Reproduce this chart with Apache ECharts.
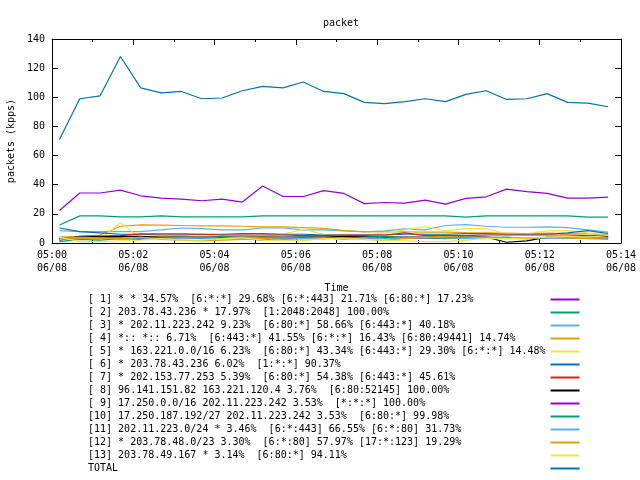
<!DOCTYPE html>
<html>
<head>
<meta charset="utf-8">
<script src="https://cdn.jsdelivr.net/npm/echarts@6/dist/echarts.min.js"></script>
<style>html,body{margin:0;padding:0;background:#fff}#c{width:640px;height:480px}</style>
</head>
<body>
<div id="c"></div>
<script>
// ---- data ----
const times = ["05:00:11","05:00:41","05:01:11","05:01:41","05:02:11","05:02:41","05:03:11",
  "05:03:41","05:04:11","05:04:41","05:05:11","05:05:41","05:06:11","05:06:41","05:07:11",
  "05:07:41","05:08:11","05:08:41","05:09:11","05:09:41","05:10:11","05:10:41","05:11:11",
  "05:11:41","05:12:11","05:12:41","05:13:11","05:13:41"];

const xTickTimes = ["05:00","05:02","05:04","05:06","05:08","05:10","05:12","05:14"];
const xTickDate = "06/08";

const legendLabels = [
  "[ 1] * * 34.57%  [6:*:*] 29.68% [6:*:443] 21.71% [6:80:*] 17.23%",
  "[ 2] 203.78.43.236 * 17.97%  [1:2048:2048] 100.00%",
  "[ 3] * 202.11.223.242 9.23%  [6:80:*] 58.66% [6:443:*] 40.18%",
  "[ 4] *:: *:: 6.71%  [6:443:*] 41.55% [6:*:*] 16.43% [6:80:49441] 14.74%",
  "[ 5] * 163.221.0.0/16 6.23%  [6:80:*] 43.34% [6:443:*] 29.30% [6:*:*] 14.48%",
  "[ 6] * 203.78.43.236 6.02%  [1:*:*] 90.37%",
  "[ 7] * 202.153.77.253 5.39%  [6:80:*] 54.38% [6:443:*] 45.61%",
  "[ 8] 96.141.151.82 163.221.120.4 3.76%  [6:80:52145] 100.00%",
  "[ 9] 17.250.0.0/16 202.11.223.242 3.53%  [*:*:*] 100.00%",
  "[10] 17.250.187.192/27 202.11.223.242 3.53%  [6:80:*] 99.98%",
  "[11] 202.11.223.0/24 * 3.46%  [6:*:443] 66.55% [6:*:80] 31.73%",
  "[12] * 203.78.48.0/23 3.30%  [6:*:80] 57.97% [17:*:123] 19.29%",
  "[13] 203.78.49.167 * 3.14%  [6:80:*] 94.11%",
  "TOTAL"
];

const s1  = [22.3,34.3,34.3,36.3,32.4,30.8,30.1,29,30.1,28.1,39.1,31.9,31.9,35.9,34,27,27.8,27.4,29.4,26.7,30.6,31.7,37,35.2,34,30.8,30.8,31.5];
const s2  = [12.4,18.6,18.6,17.9,17.9,18.6,17.9,17.9,17.9,17.9,18.6,18.6,18.6,18.6,18.6,18.6,18.6,18.6,18.6,18.6,17.7,18.6,18.6,18.6,18.6,18.6,17.7,17.7];
const s3  = [8.5,7.8,7.8,7.8,7.8,9,10.3,9.8,9,9,10.3,10.3,9,9,8.3,7.6,8.3,9.7,9,12,12.6,11.5,10.8,10.8,11,10.5,9,7.5];
const s4  = [4,4.5,5.5,11.5,12.4,12.2,12,11.7,11.7,11.5,11,11,10.5,10,8.5,7.8,7.6,7.6,7.5,7.5,7.2,7,6.8,6.5,6.8,6.5,6.2,6];
const s5  = [3,4,2.5,14,3,4,4.5,5,5.5,5,4.5,6,9.5,6,5.5,5,7,9,11.3,8.3,9.8,9.8,6.5,6.2,8.3,8.5,7,6.5];
const s6  = [10.3,7.8,7,6,6,5.5,5.5,6,6,6.5,6.5,6,6,5.5,5.5,5.5,5.5,6,6,6,6.5,6.5,6,6,6,7,8.5,6.5];
const s7  = [3,4,4.5,5,6.2,6.2,6.2,6,5.5,5.5,5.5,5.5,5,5,5.5,5.5,5.5,7,5,5,5,5.5,5.5,5.5,5.5,5.5,5,5];
const s8  = [2,4.5,4.5,4.5,4.5,4,4,4,4,4,4,4,4,4,4.5,4.5,4,4,4,4.5,4,4,0.5,1.5,4,4,4,4.5];
const s9  = [3,3.5,3.5,3.5,3,3.5,3.5,3.5,4,3.5,3.5,3,3.5,3.5,3.5,3.5,3,3.5,3.5,3.5,3.5,4,3.5,3.5,3.5,3.5,3.5,3.5];
const s10 = [1,2.5,2,3,2.5,3.5,4,3,4.5,3,2,3.5,4,3,3.5,4,4.5,3.5,3.5,3,4,3.5,4,3,3.5,4.5,4,3.5];
const s11 = [3,4,3.5,2.5,3.5,3,3.5,3.5,3,4,3.5,3.5,3,3.5,2.5,3.5,3,3.5,4,3.5,3,4,3.5,3.5,3.5,3,4.5,3.5];
const s12 = [2.5,3,3,3,4,2.5,2,1.5,2,2.5,3,2.5,2,3,3.5,2.5,2,3,4,4.5,4,3.5,3,3,4,3.5,3,2.5];
const s13 = [4,1,1,1.5,2,3,2,2,3,3.5,2,1.5,2,3,3,2.5,2,1.5,1,1,2,3,3,3.5,4,4.5,4,5];
const total = [71,99,101,128,106.5,103,104,99,99.5,104.5,107.5,106.5,110.5,104,102.5,96.5,95.7,97,99,97,102,104.5,98.5,99,102.5,96.5,96,93.5];

const seriesValues = [s1,s2,s3,s4,s5,s6,s7,s8,s9,s10,s11,s12,s13,total];
const colors = ["#9400d3","#009e73","#56b4e9","#e69f00","#f0e442","#0072b2","#e51e10","#000000",
                "#9400d3","#009e73","#56b4e9","#e69f00","#f0e442","#0072b2"];

// ---- chart ----
const FONT = "'DejaVu Sans Mono', monospace";
function toMin(t){ const p=t.split(':').map(Number); return (p[0]-5)*60+p[1]+p[2]/60; }
const xs = times.map(toMin);

const series = seriesValues.map((vals,i)=>({
  name: legendLabels[i],
  type: 'line',
  data: vals.map((v,j)=>[xs[j], v]),
  showSymbol: false,
  symbol: 'none',
  color: colors[i],
  itemStyle: {color: colors[i]},
  lineStyle: {color: colors[i], width: 1.2},
  emphasis: {disabled: true},
  animation: false
}));

const axisCommon = {
  axisLine: {show: true, onZero: false, lineStyle: {color: '#000', width: 1}},
  axisTick: {show: true, inside: true, length: 6, lineStyle: {color: '#000', width: 1}},
  splitLine: {show: false}
};

const option = {
  animation: false,
  backgroundColor: '#ffffff',
  textStyle: {fontFamily: FONT, fontSize: 10, color: '#000'},
  title: {
    text: 'packet', left: 318, top: 13,
    textStyle: {fontFamily: FONT, fontSize: 10, fontWeight: 'normal', color: '#000'}
  },
  grid: {left: 52, top: 39, width: 569, height: 204, containLabel: false, outerBoundsMode: 'none'},
  xAxis: [
    Object.assign({}, axisCommon, {
      type: 'value', min: 0, max: 14, interval: 2, position: 'bottom',
      name: 'Time', nameLocation: 'middle', nameGap: 40,
      nameTextStyle: {fontFamily: FONT, fontSize: 10, color: '#000'},
      minorTick: {show: true, splitNumber: 2, length: 3, lineStyle: {color: '#000', width: 1}},
      minorSplitLine: {show: false},
      axisLabel: {
        show: true, margin: 6, color: '#000', fontFamily: FONT, fontSize: 10, lineHeight: 13,
        showMinLabel: true, showMaxLabel: true, hideOverlap: false,
        formatter: v => xTickTimes[Math.round(v/2)] + '\n' + xTickDate
      }
    }),
    Object.assign({}, axisCommon, {
      type: 'value', min: 0, max: 14, interval: 2, position: 'top',
      minorTick: {show: true, splitNumber: 2, length: 3, lineStyle: {color: '#000', width: 1}},
      minorSplitLine: {show: false},
      axisLabel: {show: false}
    })
  ],
  yAxis: [
    Object.assign({}, axisCommon, {
      type: 'value', min: 0, max: 140, interval: 20, position: 'left',
      name: 'packets (kpps)', nameLocation: 'middle', nameGap: 34, nameRotate: 90,
      nameTextStyle: {fontFamily: FONT, fontSize: 10, color: '#000'},
      axisLabel: {show: true, margin: 7, color: '#000', fontFamily: FONT, fontSize: 10,
                  showMinLabel: true, showMaxLabel: true}
    }),
    Object.assign({}, axisCommon, {
      type: 'value', min: 0, max: 140, interval: 20, position: 'right',
      axisLabel: {show: false}
    })
  ],
  legend: {
    show: true, orient: 'vertical', left: 88, top: 293,
    align: 'right', icon: 'rect', itemWidth: 29, itemHeight: 2, itemGap: 0,
    padding: 0, selectedMode: false,
    data: legendLabels,
    formatter: n => n.padEnd(76, ' '),
    textStyle: {fontFamily: FONT, fontSize: 10, color: '#000', lineHeight: 13}
  },
  series: series
};

const chart = echarts.init(document.getElementById('c'), null, {renderer: 'canvas'});
chart.setOption(option);
</script>
</body>
</html>
